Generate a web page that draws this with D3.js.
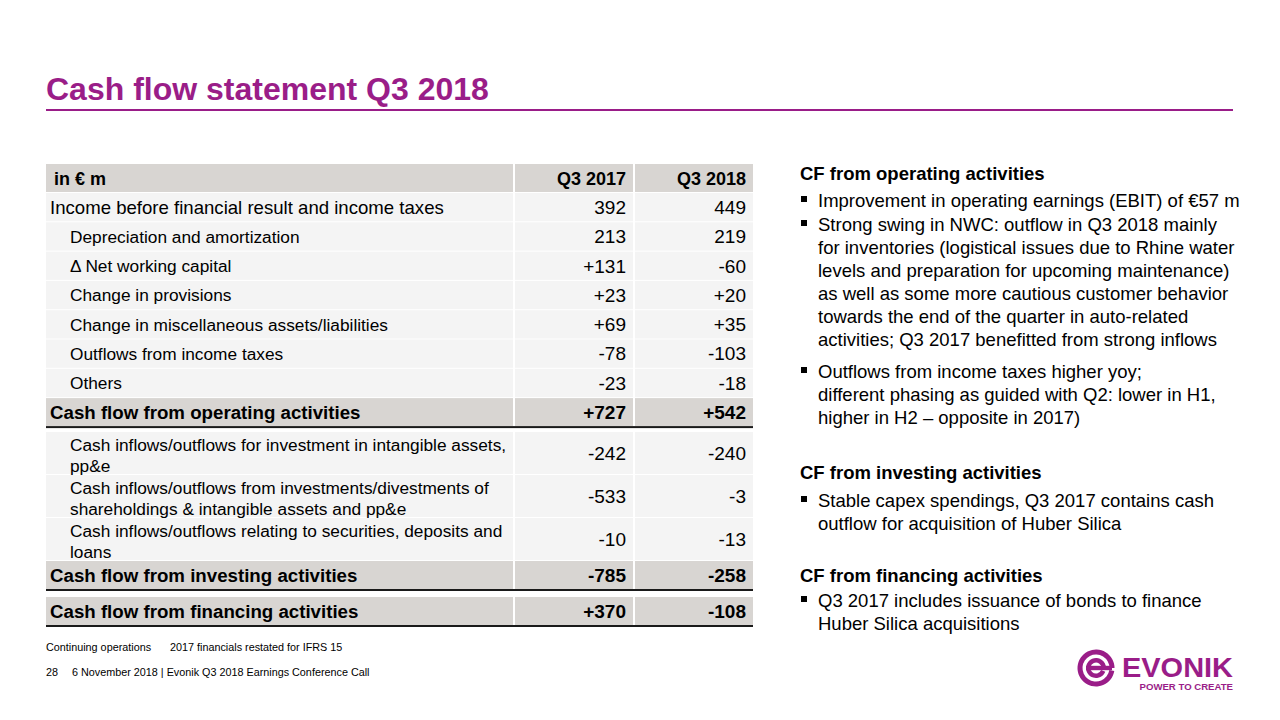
<!DOCTYPE html>
<html><head><meta charset="utf-8">
<script src="https://d3js.org/d3.v7.min.js"></script>
<style>
html,body{margin:0;padding:0;background:#fff;}
svg{display:block;font-family:"Liberation Sans",Arial,Helvetica,sans-serif;}
</style></head>
<body>
<script>
// ---------- DATA ----------
const columns = ["in € m", "Q3 2017", "Q3 2018"];
const rowLabels = [
  "Income before financial result and income taxes",
  "Depreciation and amortization",
  "\u0394 Net working capital",
  "Change in provisions",
  "Change in miscellaneous assets/liabilities",
  "Outflows from income taxes",
  "Others",
  "Cash flow from operating activities",
  "Cash inflows/outflows for investment in intangible assets,|pp&e",
  "Cash inflows/outflows from investments/divestments of|shareholdings & intangible assets and pp&e",
  "Cash inflows/outflows relating to securities, deposits and|loans",
  "Cash flow from investing activities",
  "Cash flow from financing activities"
];
const q3_2017 = ["392","213","+131","+23","+69","-78","-23","+727","-242","-533","-10","-785","+370"];
const q3_2018 = ["449","219","-60","+20","+35","-103","-18","+542","-240","-3","-13","-258","-108"];
const rowKind = ["main","sub","sub","sub","sub","sub","sub","total","sub","sub","sub","total","total"];
const title = "Cash flow statement Q3 2018";
const notes = [
  {head:"CF from operating activities", bullets:[
    ["Improvement in operating earnings (EBIT) of €57 m"],
    ["Strong swing in NWC: outflow in Q3 2018 mainly","for inventories (logistical issues due to Rhine water","levels and preparation for upcoming maintenance)","as well as some more cautious customer behavior","towards the end of the quarter in auto-related","activities; Q3 2017 benefitted from strong inflows"],
    ["Outflows from income taxes higher yoy;","different phasing as guided with Q2: lower in H1,","higher in H2 \u2013 opposite in 2017)"]
  ]},
  {head:"CF from investing activities", bullets:[
    ["Stable capex spendings, Q3 2017 contains cash","outflow for acquisition of Huber Silica"]
  ]},
  {head:"CF from financing activities", bullets:[
    ["Q3 2017 includes issuance of bonds to finance","Huber Silica acquisitions"]
  ]}
];
const footnote = ["Continuing operations", "2017 financials restated for IFRS 15"];
const footer = ["28", "6 November 2018 |  Evonik Q3 2018 Earnings Conference Call"];

// ---------- LAYOUT ----------
const W = 1280, H = 720;
const purple = "#9a1d88";
const headY = [180, 479, 582];
const bulletY = [[207, 231, 378], [507], [607]];
const lineH = 23;

const svg = d3.select("body").append("svg").attr("width", W).attr("height", H);

// title
svg.append("text").attr("x", 46).attr("y", 100).attr("fill", purple)
  .attr("font-size", 32).attr("font-weight", "bold").text(title);
svg.append("rect").attr("x", 46).attr("y", 109).attr("width", 1187).attr("height", 2).attr("fill", purple);

// table columns scale
const colX = d3.scaleOrdinal().domain(columns).range([46, 515, 635]);
const colW = d3.scaleOrdinal().domain(columns).range([467, 118, 118]);

// row vertical positions
const rows = rowLabels.map((l, i) => ({
  label: l.split("|"), v17: q3_2017[i], v18: q3_2018[i], kind: rowKind[i], i
}));
let y = 193;
rows.forEach((r, i) => {
  if (i === 8) y = 432;
  if (i === 12) y = 597;
  r.y = y;
  r.h = r.label.length > 1 ? 42 : (r.kind === "total" ? 28 : 28.3);
  y += r.h + 1;
});

// header
const hdr = svg.append("g");
columns.forEach((c, j) => {
  hdr.append("rect").attr("x", colX(c)).attr("y", 164).attr("width", colW(c)).attr("height", 28)
    .attr("fill", "#d8d5d2");
  hdr.append("text")
    .attr("x", j === 0 ? colX(c) + 8 : colX(c) + colW(c) - 7)
    .attr("y", 185).attr("text-anchor", j === 0 ? "start" : "end")
    .attr("font-size", 18).attr("font-weight", "bold").attr("fill", "#000").text(c);
});

const rg = svg.selectAll("g.row").data(rows).join("g").attr("class", "row");
columns.forEach(c => {
  rg.append("rect").attr("x", colX(c)).attr("y", d => d.y).attr("width", colW(c)).attr("height", d => d.h)
    .attr("fill", d => d.kind === "total" ? "#d8d5d2" : "#f4f4f4");
});
// labels
rg.each(function(d) {
  const g = d3.select(this);
  const indent = d.kind === "sub" ? 70 : 50;
  const fs = d.kind === "sub" ? 17.3 : (d.kind === "total" ? 18.7 : 18.6);
  const t = g.append("text").attr("x", indent).attr("font-size", fs)
    .attr("font-weight", d.kind === "total" ? "bold" : "normal").attr("fill", "#000");
  if (d.label.length === 1) {
    t.attr("y", d.y + d.h / 2 + fs * 0.36).text(d.label[0]);
  } else {
    d.label.forEach((ln, k) => {
      t.append("tspan").attr("x", indent).attr("y", d.y + 19 + k * 20.5).text(ln);
    });
  }
  const nfs = 19;
  [[columns[1], d.v17], [columns[2], d.v18]].forEach(([c, v]) => {
    g.append("text").attr("x", colX(c) + colW(c) - 7).attr("y", d.y + d.h / 2 + nfs * 0.36)
      .attr("text-anchor", "end").attr("font-size", nfs)
      .attr("font-weight", d.kind === "total" ? "bold" : "normal").text(v);
  });
  if (d.kind === "total") {
    g.append("rect").attr("x", 46).attr("y", d.y + d.h).attr("width", 707).attr("height", 2).attr("fill", "#1a1a1a");
  }
});

// right-hand notes
const noteG = svg.append("g");
notes.forEach((sec, si) => {
  noteG.append("text").attr("x", 800).attr("y", headY[si]).attr("font-size", 18.5).attr("font-weight", "bold").text(sec.head);
  sec.bullets.forEach((b, bi) => {
    const by = bulletY[si][bi];
    noteG.append("rect").attr("x", 801).attr("y", by - 11).attr("width", 6).attr("height", 6).attr("fill", "#000");
    b.forEach((ln, k) => {
      noteG.append("text").attr("x", 818).attr("y", by + k * lineH).attr("font-size", 18.5).text(ln);
    });
  });
});

// footnotes
svg.append("text").attr("x", 46).attr("y", 651).attr("font-size", 10.8).text(footnote[0]);
svg.append("text").attr("x", 170).attr("y", 651).attr("font-size", 10.8).text(footnote[1]);
svg.append("text").attr("x", 46).attr("y", 676).attr("font-size", 10.8).text(footer[0]);
svg.append("text").attr("x", 72).attr("y", 676).attr("font-size", 10.8).text(footer[1]);

// logo
const lg = svg.append("g").attr("transform", "translate(1096,668)");
const arcOuter = d3.arc().innerRadius(13.5).outerRadius(18.5).startAngle(0.55 * Math.PI).endAngle(2.5 * Math.PI);
lg.append("path").attr("d", arcOuter()).attr("fill", purple);
const arcInner = d3.arc().innerRadius(5.5).outerRadius(10).startAngle(0.62 * Math.PI).endAngle(2.5 * Math.PI);
lg.append("path").attr("d", arcInner()).attr("fill", purple);
lg.append("rect").attr("x", -10).attr("y", -2.2).attr("width", 26).attr("height", 4.4).attr("fill", purple);
svg.append("text").attr("x", 1122).attr("y", 677).attr("font-size", 27).attr("font-weight", "bold")
  .attr("fill", purple).attr("textLength", 111).attr("lengthAdjust", "spacingAndGlyphs").text("EVONIK");
svg.append("text").attr("x", 1233).attr("y", 690).attr("text-anchor", "end").attr("font-size", 9.6)
  .attr("font-weight", "bold").attr("fill", purple).text("POWER TO CREATE");
</script>
</body></html>
